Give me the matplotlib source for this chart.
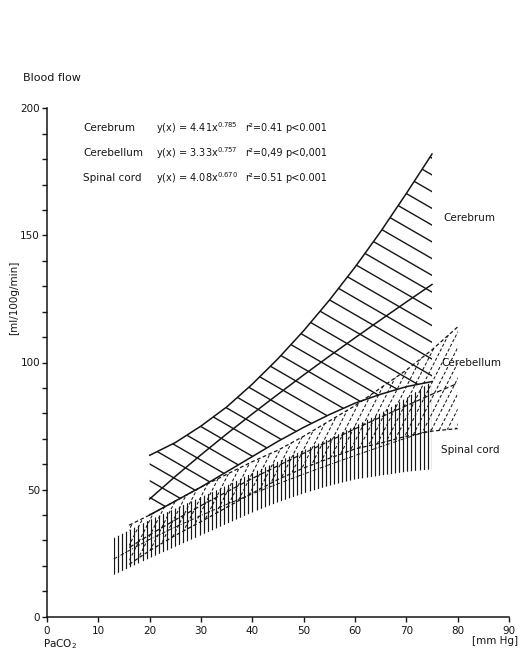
import numpy as np
import matplotlib
matplotlib.use("Agg")
import matplotlib.pyplot as plt
from matplotlib.collections import LineCollection
from matplotlib.path import Path
from matplotlib.transforms import IdentityTransform

# values (PaCO2 in mmHg -> blood flow ml/100g/min)
cbr_x = np.array([20, 25, 30, 35, 40, 45, 50, 55, 60, 65, 70, 75])
cbr_hi = np.array([63.5, 68.5, 75, 82.5, 91.5, 101.5, 112.5, 124.5, 137.5, 151.5, 166.5, 182])
cbr_mid = np.array([46.3, 55.2, 63.7, 71.9, 79.8, 87.5, 95.1, 102.5, 109.7, 116.8, 123.8, 130.7])
cbr_lo = np.array([40, 45.5, 51, 57, 63, 69, 74.5, 79.5, 84, 87.5, 90.5, 92.5])

cbl_x = np.array([16, 20, 25, 30, 35, 40, 45, 50, 55, 60, 65, 70, 75, 80])
cbl_hi = np.array([36, 40, 45.5, 51, 56, 61, 65.5, 71, 77, 83, 90, 97, 105, 114])
cbl_mid = np.array([27.2, 32.2, 38.1, 43.7, 49.1, 54.4, 59.4, 64.3, 69.1, 73.9, 78.5, 83.0, 87.5, 91.8])
cbl_lo = np.array([20.6, 26, 32, 37.4, 43, 48.6, 54, 58.5, 62.3, 66, 68.3, 71, 73, 74])

spc_x = np.array([13, 20, 25, 30, 35, 40, 45, 50, 55, 60, 65, 70, 75])
spc_hi = np.array([30.9, 38, 42.5, 47, 51.5, 56.5, 61, 65.5, 70, 75, 80, 86, 92.5])
spc_mid = np.array([22.7, 30.4, 35.3, 39.8, 44.2, 48.3, 52.3, 56.1, 59.8, 63.4, 66.9, 70.3, 73.6])
spc_lo = np.array([16.4, 23, 27.5, 32, 36.5, 41, 45, 48.5, 51.5, 54, 55.5, 57, 58])

names = ["Cerebrum", "Cerebellum", "Spinal cord"]
equations = [r"y(x) = 4.41x$^{0.785}$", r"y(x) = 3.33x$^{0.757}$", r"y(x) = 4.08x$^{0.670}$"]
r2_texts = ["r²=0.41", "r²=0,49", "r²=0.51"]
p_texts = ["p<0.001", "p<0,001", "p<0.001"]

INK = "#151515"
W, H = 520, 652
fig = plt.figure(figsize=(W / 100, H / 100), dpi=100)


def fx(px):
    return px / W


def fy(py):
    return 1 - py / H


ax = fig.add_axes([fx(47), fy(616.7), (509 - 47) / W, (616.7 - 108.3) / H])
ax.set_xlim(0, 90)
ax.set_ylim(0, 200)


def band_path(x, lo, hi):
    verts = np.column_stack([np.r_[x, x[::-1]], np.r_[lo, hi[::-1]]])
    return Path(verts)


def hatch(path, angle, step, **kw):
    # parallel lines in pixel space, clipped to the band
    disp = ax.transData.transform(path.vertices)
    c = disp.mean(axis=0)
    R = np.hypot(*np.ptp(disp, axis=0))
    a = np.deg2rad(angle)
    d = np.array([np.cos(a), np.sin(a)])
    n = np.array([-np.sin(a), np.cos(a)])
    segs = [[c + o * n - R * d, c + o * n + R * d] for o in np.arange(-R, R, step)]
    lc = LineCollection(segs, transform=IdentityTransform(), colors=INK, **kw)
    ax.add_collection(lc, autolim=False)
    lc.set_clip_path(path, ax.transData)


# cerebrum: solid lines, "\" hatching
p_cbr = band_path(cbr_x, cbr_lo, cbr_hi)
hatch(p_cbr, -30, 14.5, linewidths=1.0)
for y in (cbr_hi, cbr_mid, cbr_lo):
    ax.plot(cbr_x, y, color=INK, lw=1.1)

# cerebellum: dashed lines, steep "/" hatching
p_cbl = band_path(cbl_x, cbl_lo, cbl_hi)
hatch(p_cbl, 63, 7.0, linewidths=0.75, linestyles=[(0, (3, 2))])
for y in (cbl_hi, cbl_lo):
    ax.plot(cbl_x, y, color=INK, lw=0.9, ls=(0, (3, 2)))
ax.plot(cbl_x, cbl_mid, color=INK, lw=0.9, ls=(0, (4, 2)))

# spinal cord: vertical hatching, dash-dot centre line
p_spc = band_path(spc_x, spc_lo, spc_hi)
vl = ax.vlines(np.linspace(spc_x[0] + 0.05, spc_x[-1] - 0.05, 79), 0, 200, colors=INK, lw=0.85)
vl.set_clip_path(p_spc, ax.transData)
ax.plot(spc_x, spc_mid, color=INK, lw=0.7, ls=(0, (4, 1.5, 1, 1.5)))

# axes
for s in ("top", "right"):
    ax.spines[s].set_visible(False)
for s in ("left", "bottom"):
    ax.spines[s].set_linewidth(1.1)
    ax.spines[s].set_color(INK)
ax.set_xticks(np.arange(0, 91, 10))
ax.set_yticks([0, 50, 100, 150, 200])
ax.set_yticks(np.arange(0, 201, 10), minor=True)
ax.tick_params(which="both", direction="out", length=3.5, width=1, colors=INK, labelsize=7.5)
ax.tick_params(axis="y", pad=1.5)
ax.tick_params(axis="x", pad=3)

txt = dict(color=INK, fontsize=7.5)
fig.text(fx(23), fy(78), "Blood flow", va="center", ha="left", fontsize=8, color=INK)
fig.text(fx(14), fy(298), "[ml/100g/min]", rotation=90, va="center", ha="center", **txt)
fig.text(fx(43), fy(644), r"PaCO$_2$", va="center", ha="left", **txt)
fig.text(fx(518), fy(641), "[mm Hg]", va="center", ha="right", **txt)

rows = [128.3, 153.3, 178.3]
for yy, nm, eq, r2, pv in zip(rows, names, equations, r2_texts, p_texts):
    fig.text(fx(83), fy(yy), nm, va="center", ha="left", **txt)
    fig.text(fx(156), fy(yy), eq, va="center", ha="left", color=INK, fontsize=7)
    fig.text(fx(245), fy(yy), r2, va="center", ha="left", color=INK, fontsize=7)
    fig.text(fx(285), fy(yy), pv, va="center", ha="left", color=INK, fontsize=7)

fig.text(fx(443), fy(218), "Cerebrum", va="center", ha="left", **txt)
fig.text(fx(441), fy(363), "Cerebellum", va="center", ha="left", **txt)
fig.text(fx(441), fy(450), "Spinal cord", va="center", ha="left", **txt)

fig.savefig("out.png", dpi=100)
